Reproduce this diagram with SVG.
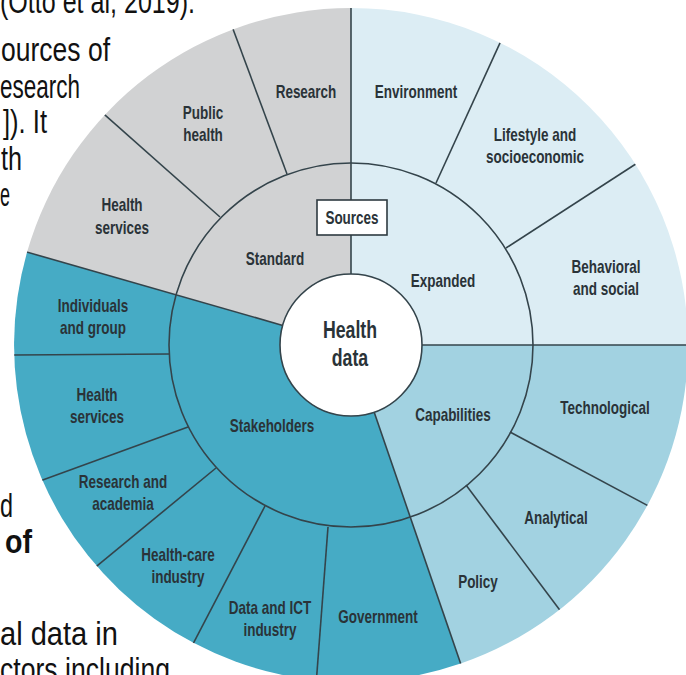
<svg xmlns="http://www.w3.org/2000/svg" width="686" height="675" viewBox="0 0 686 675">
<style>
.bg{font-family:"Liberation Sans",Arial,sans-serif;font-size:33px;fill:#111;}
.bgb{font-family:"Liberation Sans",Arial,sans-serif;font-size:33px;font-weight:bold;fill:#111;}
.lbl{font-family:"Liberation Sans",Arial,sans-serif;font-size:18px;font-weight:bold;fill:#2a3338;text-anchor:middle;}
.ln{stroke:#34444b;stroke-width:1.6;fill:none;}
</style>
<defs>
<clipPath id="disc"><circle cx="351" cy="345" r="337"/></clipPath>
</defs>
<rect width="686" height="675" fill="#ffffff"/>
<g id="page-text">
<text class="bg" x="0" y="13" textLength="195" lengthAdjust="spacingAndGlyphs">(Otto et al, 2019).</text>
<text class="bg" x="1" y="61" textLength="109" lengthAdjust="spacingAndGlyphs">ources of</text>
<text class="bg" x="0" y="97.5" textLength="80" lengthAdjust="spacingAndGlyphs">esearch</text>
<text class="bg" x="3" y="133" textLength="44" lengthAdjust="spacingAndGlyphs">]). It</text>
<text class="bg" x="1" y="170" textLength="21" lengthAdjust="spacingAndGlyphs">th</text>
<text class="bg" x="0" y="206" textLength="10" lengthAdjust="spacingAndGlyphs">e</text>
<text class="bg" x="0" y="517" textLength="13" lengthAdjust="spacingAndGlyphs">d</text>
<text class="bgb" x="5" y="553" textLength="27" lengthAdjust="spacingAndGlyphs">of</text>
<text class="bg" x="0" y="645" textLength="118" lengthAdjust="spacingAndGlyphs">al  data  in</text>
<text class="bg" x="0" y="681" textLength="170" lengthAdjust="spacingAndGlyphs">ctors  including</text>
</g>
<g id="sectors">
<path id="w-standard" d="M351,345 L27.1,252.1 A337,337 0 0 1 351,8 Z" fill="#d1d2d3"/>
<path id="w-expanded" d="M351,345 L351,8 A337,337 0 0 1 688,345 Z" fill="#dcedf4"/>
<path id="w-capabilities" d="M351,345 L688,345 A337,337 0 0 1 460.7,663.6 Z" fill="#a2d2e1"/>
<path id="w-stakeholders" d="M351,345 L460.7,663.6 A337,337 0 0 1 27.1,252.1 Z" fill="#46abc5"/>
</g>
<g id="connectors" clip-path="url(#disc)">
<line class="ln" x1="351" y1="274" x2="351" y2="0"/>
<line class="ln" x1="422" y1="345" x2="692" y2="345"/>
<line class="ln" x1="374.1" y1="412.1" x2="463.3" y2="671.2"/>
<line class="ln" x1="282.75" y1="325.4" x2="19.4" y2="249.9"/>
<line class="ln" x1="287" y1="174" x2="230.3" y2="21.8"/>
<line class="ln" x1="220" y1="217" x2="99.2" y2="109.9"/>
<line class="ln" x1="436" y1="183" x2="502.2" y2="38.1"/>
<line class="ln" x1="506" y1="248" x2="637.3" y2="163"/>
<line class="ln" x1="510" y1="432" x2="649.7" y2="506.6"/>
<line class="ln" x1="466" y1="485" x2="560.5" y2="611"/>
<line class="ln" x1="328" y1="527" x2="315.8" y2="688"/>
<line class="ln" x1="265" y1="506" x2="191.6" y2="646.6"/>
<line class="ln" x1="216" y1="468" x2="92.2" y2="569.8"/>
<line class="ln" x1="188" y1="427" x2="35.8" y2="482.6"/>
<line class="ln" x1="169" y1="354" x2="5" y2="355"/>
<circle class="ln" cx="351" cy="345" r="182"/>
</g>
<g id="n-center">
<circle cx="351" cy="345" r="71" fill="#ffffff" stroke="#34444b" stroke-width="1.6"/>
<text class="lbl" style="font-size:23px" transform="translate(350,338) scale(0.77,1)"><tspan x="0">Health</tspan><tspan x="0" dy="28">data</tspan></text>
</g>
<g id="n-sources">
<rect x="317" y="200" width="70" height="35" fill="#ffffff" stroke="#2e3a40" stroke-width="1.6"/>
<text class="lbl" transform="translate(352,223.5) scale(0.75,1)">Sources</text>
</g>
<g id="n-standard"><text class="lbl" transform="translate(275,264.5) scale(0.75,1)">Standard</text></g>
<g id="n-expanded"><text class="lbl" transform="translate(443,286.5) scale(0.75,1)">Expanded</text></g>
<g id="n-capabilities"><text class="lbl" transform="translate(453,420.5) scale(0.75,1)">Capabilities</text></g>
<g id="n-stakeholders"><text class="lbl" transform="translate(272,432) scale(0.75,1)">Stakeholders</text></g>
<g id="n-research"><text class="lbl" transform="translate(306,97.5) scale(0.75,1)">Research</text></g>
<g id="n-public-health"><text class="lbl" transform="translate(203,119) scale(0.75,1)"><tspan x="0">Public</tspan><tspan x="0" dy="22">health</tspan></text></g>
<g id="n-health-services-std"><text class="lbl" transform="translate(122,211) scale(0.75,1)"><tspan x="0">Health</tspan><tspan x="0" dy="23">services</tspan></text></g>
<g id="n-environment"><text class="lbl" transform="translate(416,97.5) scale(0.75,1)">Environment</text></g>
<g id="n-lifestyle"><text class="lbl" transform="translate(535,141) scale(0.75,1)"><tspan x="0">Lifestyle and</tspan><tspan x="0" dy="22">socioeconomic</tspan></text></g>
<g id="n-behavioral"><text class="lbl" transform="translate(606,273) scale(0.75,1)"><tspan x="0">Behavioral</tspan><tspan x="0" dy="22">and social</tspan></text></g>
<g id="n-technological"><text class="lbl" transform="translate(605,413.5) scale(0.75,1)">Technological</text></g>
<g id="n-analytical"><text class="lbl" transform="translate(556,523.5) scale(0.75,1)">Analytical</text></g>
<g id="n-policy"><text class="lbl" transform="translate(478,588) scale(0.75,1)">Policy</text></g>
<g id="n-government"><text class="lbl" transform="translate(378,622.5) scale(0.75,1)">Government</text></g>
<g id="n-data-ict"><text class="lbl" transform="translate(270,614) scale(0.75,1)"><tspan x="0">Data and ICT</tspan><tspan x="0" dy="22">industry</tspan></text></g>
<g id="n-health-care"><text class="lbl" transform="translate(178,561) scale(0.75,1)"><tspan x="0">Health-care</tspan><tspan x="0" dy="22">industry</tspan></text></g>
<g id="n-research-academia"><text class="lbl" transform="translate(123,488) scale(0.75,1)"><tspan x="0">Research and</tspan><tspan x="0" dy="22">academia</tspan></text></g>
<g id="n-health-services-stk"><text class="lbl" transform="translate(97,401) scale(0.75,1)"><tspan x="0">Health</tspan><tspan x="0" dy="22">services</tspan></text></g>
<g id="n-individuals"><text class="lbl" transform="translate(93,312) scale(0.75,1)"><tspan x="0">Individuals</tspan><tspan x="0" dy="22">and group</tspan></text></g>
</svg>
